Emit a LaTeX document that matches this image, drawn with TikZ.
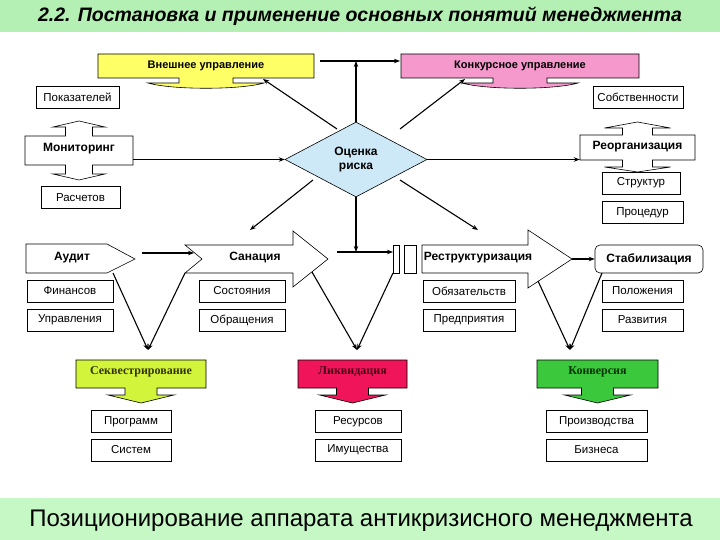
\documentclass[tikz,border=0pt]{standalone}
\usepackage{fontspec}
\setmainfont{Liberation Sans}
\newfontfamily\timesfont{Liberation Serif}
\usepackage{tikz}
\usetikzlibrary{arrows.meta, positioning, calc, shapes.geometric}
\definecolor{bandgreen}{HTML}{B4F0B4}
\definecolor{footgreen}{HTML}{C6F8C6}
\definecolor{extyellow}{HTML}{FFFF66}
\definecolor{konkpink}{HTML}{F598CC}
\definecolor{riskblue}{HTML}{CDE9F7}
\definecolor{seqlime}{HTML}{D2F53C}
\definecolor{liqred}{HTML}{F0145A}
\definecolor{convgreen}{HTML}{3CC83C}
\definecolor{seqtext}{HTML}{333300}
\definecolor{liqtext}{HTML}{4A0018}
\definecolor{convtext}{HTML}{003300}

\begin{document}
\begin{tikzpicture}[x=1pt, y=-1pt, >={Stealth[length=6pt, width=4.5pt]},
    lbl/.style={draw, line width=0.6pt, fill=white, inner sep=0pt, minimum height=22pt, font=\fontsize{11.5}{12}\selectfont},
    bold/.style={font=\fontsize{12}{13}\selectfont\bfseries},
    shp/.style={draw, line width=0.6pt},
    arr/.style={->, line width=1.1pt}]
    \useasboundingbox (0,0) rectangle (720,540);
    \fill[white] (0,0) rectangle (720,540);

    % Title and footer bands
    \fill[bandgreen] (0,0) rectangle (720,32);
    \node[font=\fontsize{19.5}{22}\selectfont\bfseries\itshape] (title) at (360,16) {2.2. Постановка и применение основных понятий менеджмента};
    \fill[footgreen] (0,498) rectangle (720,540);
    \node[font=\fontsize{24}{26}\selectfont] (foot) at (361,521) {Позиционирование аппарата антикризисного менеджмента};

    % Top boxes with tabs
    \draw[shp, fill=extyellow] (98,54) -- (314,54) -- (314,78) -- (233,78) -- (233,83) -- (264,83)
        .. controls (240,90) and (172,90) .. (148,83) -- (179,83) -- (179,78) -- (98,78) -- cycle;
    \node[font=\fontsize{11}{13}\selectfont\bfseries, minimum width=216, minimum height=24] (ext) at (206,66) {Внешнее управление};
    \draw[shp, fill=konkpink] (401,54) -- (639,54) -- (639,78) -- (547,78) -- (547,83) -- (578,83)
        .. controls (554,90) and (486,90) .. (462,83) -- (493,83) -- (493,78) -- (401,78) -- cycle;
    \node[font=\fontsize{11}{13}\selectfont\bfseries, minimum width=238, minimum height=24] (konk) at (520,66) {Конкурсное управление};

    % Risk diamond
    \node[diamond, draw, line width=0.6pt, fill=riskblue, minimum width=142, minimum height=75,
          inner sep=0pt, align=center, font=\fontsize{12}{13.5}\selectfont\bfseries] (risk) at (356,159.5) {Оценка\\риска};

    % Monitoring and reorganisation
    \draw[shp, fill=white] (25,136) -- (65.5,136) -- (65.5,127) -- (53,127) -- (79,121) -- (105,127) -- (92.5,127)
        -- (92.5,136) -- (133,136) -- (133,165) -- (92.5,165) -- (92.5,174) -- (105,174) -- (79,180)
        -- (53,174) -- (65.5,174) -- (65.5,165) -- (25,165) -- cycle;
    \node[bold, minimum width=108, minimum height=29] (mon) at (79,149) {Мониторинг};
    \draw[shp, fill=white] (580,135) -- (622.5,135) -- (622.5,128) -- (604.5,128) -- (637.5,122) -- (670.5,128)
        -- (652.5,128) -- (652.5,135) -- (695,135) -- (695,160) -- (652.5,160) -- (652.5,167) -- (670.5,167)
        -- (637.5,172) -- (604.5,167) -- (622.5,167) -- (622.5,160) -- (580,160) -- cycle;
    \node[bold, minimum width=115, minimum height=25] (reorg) at (637.5,147) {Реорганизация};

    % Middle row of shapes
    \draw[shp, fill=white] (26,244) -- (107,244) -- (135,259) -- (107,273) -- (26,273) -- cycle;
    \node[bold] (audit) at (72,258) {Аудит};
    \draw[shp, fill=white] (185,245) -- (293,245) -- (293,231) -- (328,259) -- (293,287) -- (293,273)
        -- (185,273) -- (202,259) -- cycle;
    \node[bold] (sanac) at (255,258) {Санация};
    \draw[shp, fill=white] (393,245) rectangle (399,273);
    \draw[shp, fill=white] (404,245) rectangle (416,273);
    \draw[shp, fill=white] (422,245) -- (528,245) -- (528,230) -- (572,259) -- (528,288) -- (528,273)
        -- (422,273) -- cycle;
    \node[bold] (restr) at (478,258) {Реструктуризация};
    \node[shp, fill=white, rounded corners=5pt, minimum width=108, minimum height=28, bold] (stab) at (649,259) {Стабилизация};

    % Small label boxes
    \foreach \nm/\cx/\cy/\w/\txt in {
        pok/77.5/97.5/83/Показателей, sob/638/97.5/90/Собственности,
        ras/80.5/197.5/79/Расчетов, str/641/183/78/Структур, proc/642.5/212.5/81/Процедур,
        fin/70/291/86/Финансов, upr/70/320/86/Управления,
        sost/242/291/86/Состояния, obr/242/320/86/Обращения,
        obyaz/469/291/92/Обязательств, pred/469/320/92/Предприятия,
        pol/642.5/291/81/Положения, razv/642.5/320/81/Развития,
        prog/131/421.5/80/Программ, sist/131/450/80/Систем,
        res/358/421.5/86/Ресурсов, imu/358/450/86/Имущества,
        proizv/596.5/421.5/101/Производства, biz/596.5/450/101/Бизнеса}{
        \node[lbl, minimum width=\w] (\nm) at (\cx,\cy) {\txt};
    }

    % Bottom coloured boxes
    \foreach \nm/\xl/\xr/\col/\tcol/\txt in {
        seq/76/206/seqlime/seqtext/Секвестрирование,
        liq/298/407/liqred/liqtext/Ликвидация,
        conv/537/658/convgreen/convtext/Конверсия}{
        \pgfmathsetmacro{\cx}{(\xl+\xr)/2}
        \draw[shp, fill=\col] (\xl,360) -- (\xr,360) -- (\xr,388) -- (\cx+16,388) -- (\cx+16,395) -- (\cx+33,395)
            -- (\cx,403) -- (\cx-33,395) -- (\cx-16,395) -- (\cx-16,388) -- (\xl,388) -- cycle;
        \node[font=\timesfont\fontsize{12}{13}\selectfont\bfseries, text=\tcol] (\nm) at (\cx,372) {\txt};
    }

    % Connector end points
    \coordinate (extR) at (320,61);
    \coordinate (konkL) at (400,61);
    \coordinate (ulS) at (337,129);  \coordinate (ulE) at (263,79);
    \coordinate (urS) at (400,129);  \coordinate (urE) at (465,79);
    \coordinate (llS) at (313,180);  \coordinate (llE) at (250,230);
    \coordinate (lrS) at (400,180);  \coordinate (lrE) at (478,230);
    \coordinate (audR) at (142,253); \coordinate (sanL) at (194,253);
    \coordinate (sanR) at (337,252); \coordinate (resL) at (393,252);
    \coordinate (resT) at (572,259);
    \coordinate (vA) at (148,350); \coordinate (vB) at (357,350); \coordinate (vC) at (570,350);

    % Arrows round the diamond
    \draw[arr] (extR) -- (konkL);
    \draw[arr] (risk.north) -- (risk.north |- extR);
    \draw[arr] (ulS) -- (ulE);
    \draw[arr] (urS) -- (urE);
    \draw[arr] (llS) -- (llE);
    \draw[arr] (lrS) -- (lrE);
    \draw[->, line width=0.8pt] (mon.east |- risk.west) -- (risk.west);
    \draw[->, line width=0.8pt] (risk.east) -- (risk.east -| reorg.west);
    \draw[arr] (risk.south) -- (risk.south |- resL);

    % Arrows along the middle row
    \draw[arr] (audR) -- (sanL);
    \draw[arr] (sanR) -- (resL);
    \draw[arr] (resT) -- (stab.west |- resT);

    % V arrows down to the coloured boxes
    \draw[arr] (113,273) -- (vA);
    \draw[arr] (185,273) -- (vA);
    \draw[arr] (312,272) -- (vB);
    \draw[arr] (393,273) -- (vB);
    \draw[arr] (538,281) -- (vC);
    \draw[arr] (602,273) -- (vC);
\end{tikzpicture}
\end{document}
